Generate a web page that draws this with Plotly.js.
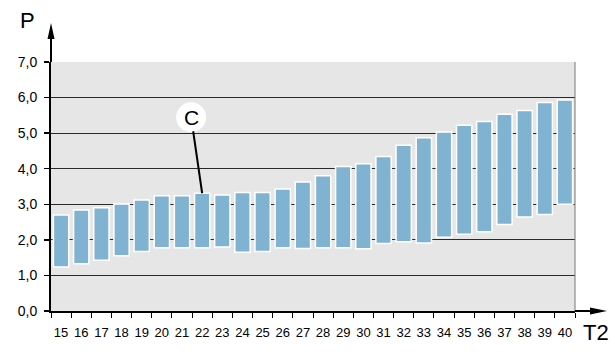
<!DOCTYPE html>
<html>
<head>
<meta charset="utf-8">
<script src="https://cdn.plot.ly/plotly-3.0.1.min.js"></script>
<style>html,body{margin:0;padding:0;background:#fff;}#chart{width:615px;height:360px;}</style>
</head>
<body>
<div id="chart"></div>
<script>
var categories = ['15','16','17','18','19','20','21','22','23','24','25','26','27','28','29','30','31','32','33','34','35','36','37','38','39','40'];
var bottoms = [1.24,1.33,1.43,1.55,1.67,1.78,1.78,1.78,1.80,1.65,1.67,1.78,1.76,1.78,1.78,1.75,1.90,1.95,1.91,2.07,2.16,2.23,2.43,2.64,2.71,3.00];
var tops =    [2.70,2.84,2.90,3.01,3.12,3.24,3.24,3.31,3.26,3.33,3.33,3.43,3.63,3.80,4.06,4.14,4.34,4.66,4.87,5.03,5.22,5.33,5.53,5.64,5.86,5.93];
var yTickVals = [0,1,2,3,4,5,6,7];
var markerCategory = '22';
var markerLabel = 'C';
var yAxisLabel = 'P';
var xAxisLabel = 'T2';

var heights = tops.map(function(t,i){ return t - bottoms[i]; });
var markerIndex = categories.indexOf(markerCategory);
var markerTop = tops[markerIndex];

var trace = {
  type: 'bar',
  x: categories,
  y: heights,
  base: bottoms,
  marker: {color: '#80b3d2', line: {color: '#ffffff', width: 1.5}},
  hoverinfo: 'none'
};

var layout = {
  width: 615, height: 360,
  margin: {l: 51, r: 40, t: 62, b: 49, pad: 0},
  paper_bgcolor: '#ffffff',
  plot_bgcolor: '#e6e6e6',
  separators: ', ',
  showlegend: false,
  bargap: 0.24,
  font: {family: 'Liberation Sans, Arial, sans-serif', color: '#000'},
  xaxis: {
    type: 'category',
    tickson: 'boundaries',
    tickangle: 0,
    ticks: 'outside', ticklen: 5, tickwidth: 1, tickcolor: '#000',
    showline: true, linecolor: '#000', linewidth: 2,
    showgrid: false, zeroline: false,
    tickfont: {size: 13, color: '#000'},
    ticklabelstandoff: 8,
    fixedrange: true
  },
  yaxis: {
    range: [0, 7],
    tickvals: yTickVals,
    tickformat: '.1f',
    ticks: 'outside', ticklen: 5, tickwidth: 1.5, tickcolor: '#000',
    showline: true, linecolor: '#000', linewidth: 2,
    showgrid: true, gridcolor: '#2a2a2a', gridwidth: 1,
    zeroline: false,
    tickfont: {size: 14, color: '#000'},
    ticklabelstandoff: 4,
    fixedrange: true
  },
  shapes: [
    {type: 'line', xref: 'paper', yref: 'paper', x0: 1, x1: 1, y0: 0, y1: 1, line: {color: '#777', width: 1}, layer: 'above'},
    {type: 'line', xref: 'paper', yref: 'paper', xsizemode: 'pixel', xanchor: 0, x0: 0, x1: 0, ysizemode: 'pixel', yanchor: 1, y0: 0, y1: 25, line: {color: '#000', width: 2}, layer: 'above'},
    {type: 'path', xref: 'paper', yref: 'paper', xsizemode: 'pixel', xanchor: 0, ysizemode: 'pixel', yanchor: 1, path: 'M-3.5,23 L3.5,23 L0,39 Z', fillcolor: '#000', line: {width: 0}, layer: 'above'},
    {type: 'line', xref: 'paper', yref: 'paper', xsizemode: 'pixel', xanchor: 1, x0: 0, x1: 17, ysizemode: 'pixel', yanchor: 0, y0: 0, y1: 0, line: {color: '#000', width: 2}, layer: 'above'},
    {type: 'path', xref: 'paper', yref: 'paper', xsizemode: 'pixel', xanchor: 1, ysizemode: 'pixel', yanchor: 0, path: 'M15,-3.5 L15,3.5 L32,0 Z', fillcolor: '#000', line: {width: 0}, layer: 'above'},
    {type: 'circle', xref: 'x', yref: 'y', xsizemode: 'pixel', xanchor: markerIndex, x0: -26, x1: 4, ysizemode: 'pixel', yanchor: markerTop, y0: 61, y1: 91, fillcolor: '#ffffff', line: {width: 0}, layer: 'above'}
  ],
  annotations: [
    {x: markerIndex, y: markerTop, xref: 'x', yref: 'y', text: markerLabel, showarrow: true, arrowhead: 0, arrowwidth: 2, arrowcolor: '#000', ax: -11, ay: -76, font: {size: 21, color: '#000'}, borderpad: 2},
    {x: -0.045, y: 1.165, xref: 'paper', yref: 'paper', text: yAxisLabel, showarrow: false, xanchor: 'center', yanchor: 'middle', font: {size: 22, color: '#000'}},
    {x: 1.041, y: -0.087, xref: 'paper', yref: 'paper', text: xAxisLabel, showarrow: false, xanchor: 'center', yanchor: 'middle', font: {size: 22, color: '#000'}}
  ]
};

Plotly.newPlot('chart', [trace], layout, {displayModeBar: false, staticPlot: true});
</script>
</body>
</html>
